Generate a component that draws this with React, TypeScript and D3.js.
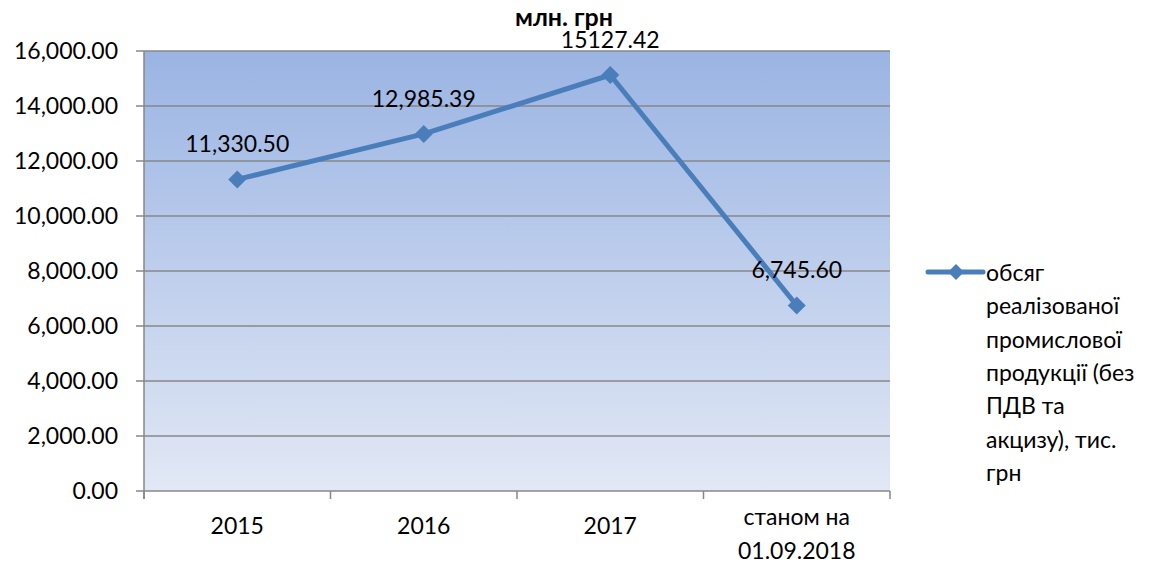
import React from "react";
import * as d3 from "d3";

const categories: string[][] = [["2015"], ["2016"], ["2017"], ["станом на", "01.09.2018"]];
const values: number[] = [11330.5, 12985.39, 15127.42, 6745.6];
const valueLabels: string[] = ["11,330.50", "12,985.39", "15127.42", "6,745.60"];
const yTicks: number[] = [0, 2000, 4000, 6000, 8000, 10000, 12000, 14000, 16000];
const title = "млн. грн";
const legendLines: string[] = ["обсяг", "реалізованої", "промислової", "продукції (без", "ПДВ та", "акцизу), тис.", "грн"];

const W = 1162, H = 572;
const left = 144, right = 890, top = 51, bottom = 491;
const FONT = "Lato, 'Open Sans', 'Noto Sans', sans-serif";
const LINE = "#4A7EBB";
const GRID = "#878787";
const FS = 23;

export default function App() {
  const x = d3.scaleBand<number>().domain(d3.range(categories.length)).range([left, right]).padding(0);
  const y = d3.scaleLinear().domain([0, 16000]).range([bottom, top]);
  const cx = (i: number) => (x(i) as number) + x.bandwidth() / 2;
  const line = d3.line<number>().x((_, i) => cx(i)).y((d) => y(d));
  const fmt = d3.format(",.2f");
  const diamond = (px: number, py: number, r: number) =>
    `M${px},${py - r}L${px + r},${py}L${px},${py + r}L${px - r},${py}Z`;
  const boundaries = d3.range(categories.length + 1).map((i) => left + i * x.bandwidth());

  return (
    <svg width={W} height={H} style={{ position: "absolute", left: 0, top: 0, fontFamily: FONT }}>
      <defs>
        <linearGradient id="bg" x1="0" y1="0" x2="0" y2="1">
          <stop offset="0" stopColor="#9AB4E3" />
          <stop offset="1" stopColor="#E2E8F5" />
        </linearGradient>
      </defs>
      <rect x={0} y={0} width={W} height={H} fill="#fff" />
      <rect x={left} y={top} width={right - left} height={bottom - top} fill="url(#bg)" />
      {yTicks.map((t) => (
        <g key={t}>
          {t > 0 && <line x1={left} x2={right} y1={y(t)} y2={y(t)} stroke={GRID} strokeWidth={1.5} />}
          <line x1={left - 8} x2={left} y1={y(t)} y2={y(t)} stroke={GRID} strokeWidth={1.5} />
          <text x={118} y={y(t)} dy="0.35em" textAnchor="end" fontSize={FS} fill="#000">
            {fmt(t)}
          </text>
        </g>
      ))}
      <line x1={left} x2={left} y1={top} y2={bottom + 8} stroke={GRID} strokeWidth={1.5} />
      <line x1={left} x2={right} y1={bottom} y2={bottom} stroke={GRID} strokeWidth={1.5} />
      {boundaries.map((b, i) => (
        <line key={i} x1={b} x2={b} y1={bottom} y2={bottom + 8} stroke={GRID} strokeWidth={1.5} />
      ))}
      {categories.map((c, i) =>
        c.map((s, j) => (
          <text
            key={i + "-" + j}
            x={cx(i)}
            y={(c.length > 1 ? bottom + 34 : bottom + 43) + j * 34}
            textAnchor="middle"
            fontSize={FS}
            fill="#000"
          >
            {s}
          </text>
        ))
      )}
      <path d={line(values) || ""} fill="none" stroke={LINE} strokeWidth={5} strokeLinejoin="round" />
      {values.map((v, i) => (
        <path key={i} d={diamond(cx(i), y(v), 9)} fill={LINE} />
      ))}
      {values.map((v, i) => (
        <text key={"l" + i} x={cx(i)} y={y(v) - 27} textAnchor="middle" fontSize={FS} fill="#000">
          {valueLabels[i]}
        </text>
      ))}
      <text x={564} y={26} textAnchor="middle" fontSize={25} fontWeight="bold" fill="#000">
        {title}
      </text>
      <line x1={928} x2={983} y1={272} y2={272} stroke={LINE} strokeWidth={5} strokeLinecap="round" />
      <path d={diamond(956, 272, 8)} fill={LINE} />
      {legendLines.map((s, i) => (
        <text key={"g" + i} x={986} y={281 + i * 33.3} fontSize={FS} fill="#000">
          {s}
        </text>
      ))}
    </svg>
  );
}
